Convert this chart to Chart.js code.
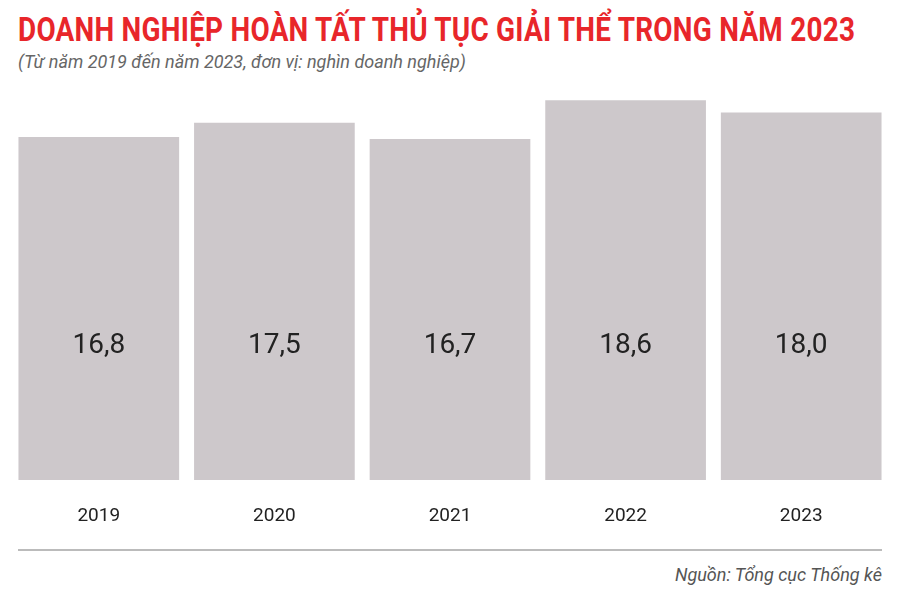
<!DOCTYPE html>
<html><head><meta charset="utf-8">
<script src="https://cdn.jsdelivr.net/npm/chart.js@4"></script>
<style>
body{margin:0;width:900px;height:592px;background:#fff;position:relative;overflow:hidden;font-family:Roboto,sans-serif}
#t{position:absolute;left:18px;top:10px;font-weight:700;font-size:33px;color:#e8262a;white-space:nowrap;transform:scaleX(0.845);transform-origin:left top;letter-spacing:0.3px}
#s{position:absolute;left:18px;top:51px;font-style:italic;font-size:18px;color:#666;white-space:nowrap}
#l{position:absolute;left:18px;width:864px;top:549px;height:2px;background:#bbb}
#src{position:absolute;right:18px;top:564px;font-style:italic;font-size:18px;color:#555}
canvas{position:absolute;left:0;top:0}
</style></head><body>
<div id="t">DOANH NGHIỆP HOÀN TẤT THỦ TỤC GIẢI THỂ TRONG NĂM 2023</div>
<div id="s">(Từ năm 2019 đến năm 2023, đơn vị: nghìn doanh nghiệp)</div>
<div id="l"></div>
<div id="src">Nguồn: Tổng cục Thống kê</div>
<div style="position:absolute;left:0;top:0;width:900px;height:546px"><canvas id="c"></canvas></div>
<script>
const categories=["2019","2020","2021","2022","2023"];
const values=[16.8,17.5,16.7,18.6,18.0];
const valueLabels=["16,8","17,5","16,7","18,6","18,0"];
const labelPlugin={id:'vl',afterDatasetsDraw(ch){const ctx=ch.ctx;const meta=ch.getDatasetMeta(0);ctx.save();ctx.font='28px Roboto';ctx.fillStyle='#222';ctx.textAlign='center';ctx.textBaseline='middle';meta.data.forEach((b,i)=>{ctx.fillText(valueLabels[i],b.x,346);});ctx.restore();}};
new Chart(document.getElementById('c'),{type:'bar',data:{labels:categories,datasets:[{data:values,backgroundColor:'#cdc8cb',barPercentage:0.915,categoryPercentage:1}]},
options:{responsive:true,maintainAspectRatio:false,animation:false,layout:{padding:{left:11,right:11,top:90,bottom:7}},
plugins:{legend:{display:false},tooltip:{enabled:false}},
scales:{y:{display:false,min:-0.3,max:19.1},x:{grid:{display:false},border:{display:false},ticks:{color:'#222',font:{size:19,family:'Roboto'},padding:11}}}},plugins:[labelPlugin]});
</script></body></html>
